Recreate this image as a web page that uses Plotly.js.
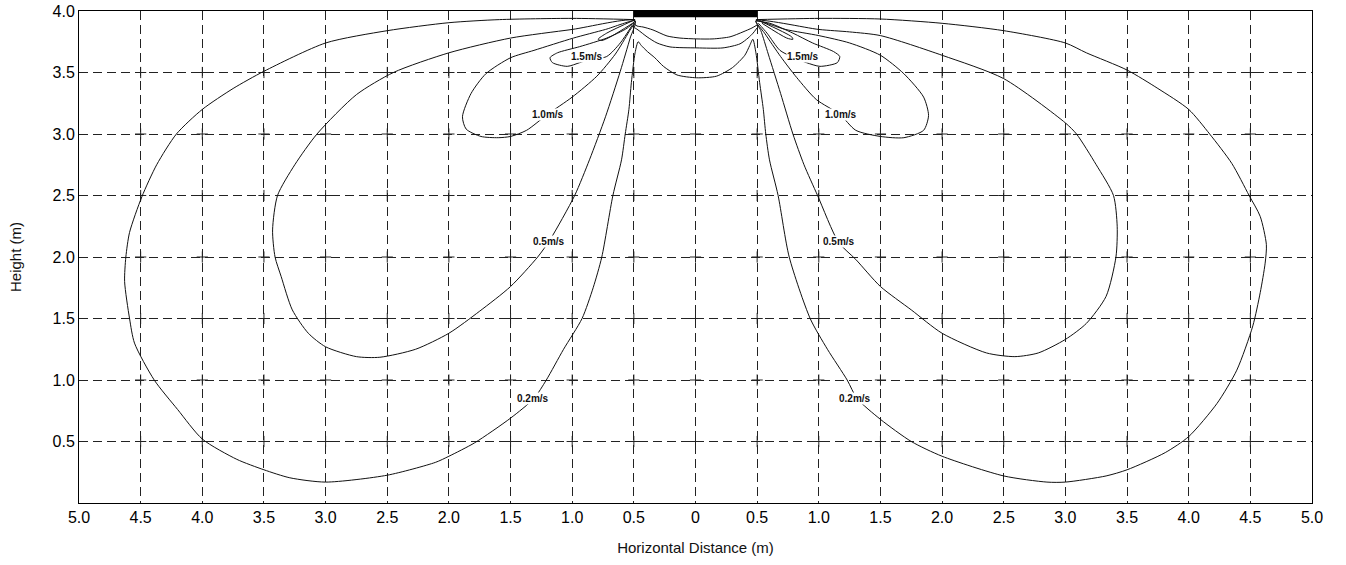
<!DOCTYPE html>
<html>
<head>
<meta charset="utf-8">
<script src="https://cdn.plot.ly/plotly-3.0.1.min.js"></script>
<style>html,body{margin:0;padding:0;background:#fff}#chart{width:1346px;height:565px}</style>
</head>
<body>
<div id="chart"></div>
<script>
// ---- tick labels (absolute horizontal distance from the diffuser centre) ----
const xTickVals = [-5,-4.5,-4,-3.5,-3,-2.5,-2,-1.5,-1,-0.5,0,0.5,1,1.5,2,2.5,3,3.5,4,4.5,5];
const xTickText = ['5.0','4.5','4.0','3.5','3.0','2.5','2.0','1.5','1.0','0.5','0','0.5','1.0','1.5','2.0','2.5','3.0','3.5','4.0','4.5','5.0'];
const yTickVals = [0.5,1,1.5,2,2.5,3,3.5,4];
const yTickText = ['0.5','1.0','1.5','2.0','2.5','3.0','3.5','4.0'];

// ---- diffuser (black bar at the ceiling) ----
const diffuserX = [-0.5, 0.5];
const diffuserY = [3.95, 4.0];

// ---- 0.2 m/s isovel (one continuous line: left lobe, centre dip, right lobe) ----
const c02X = [-0.49,-1.0,-1.59,-2.0,-2.5,-3.0,-3.5,-3.75,-4.0,-4.21,-4.37,-4.49,-4.59,-4.62,-4.63,-4.59,-4.55,-4.39,-4.2,-4.0,-3.72,-3.5,-3.29,-3.0,-2.5,-2.11,-2.0,-1.79,-1.5,-1.31,-1.21,-1.07,-0.92,-0.83,-0.76,-0.67,-0.6,-0.57,-0.54,-0.52,-0.49,-0.465,
  -0.44,-0.39,-0.33,-0.26,-0.15,0.01,0.17,0.3,0.4,0.44,0.465,
  0.49,0.52,0.55,0.57,0.6,0.67,0.76,0.93,1.07,1.23,1.31,1.5,1.75,2.0,2.5,2.85,3.0,3.33,3.5,3.81,4.0,4.23,4.39,4.52,4.58,4.62,4.63,4.58,4.49,4.35,4.17,4.0,3.75,3.5,3.17,3.0,2.5,2.0,1.5,1.0,0.49];
const c02Y = [3.93,3.94,3.93,3.905,3.84,3.74,3.51,3.37,3.2,3.0,2.75,2.49,2.2,2.0,1.8,1.5,1.3,1.0,0.76,0.52,0.355,0.27,0.205,0.17,0.226,0.33,0.38,0.49,0.69,0.85,1.0,1.25,1.5,1.75,2.0,2.5,2.79,3.0,3.2,3.42,3.66,3.75,
  3.72,3.67,3.62,3.55,3.48,3.457,3.47,3.54,3.64,3.72,3.77,
  3.66,3.42,3.2,3.0,2.79,2.5,2.0,1.5,1.25,1.0,0.85,0.68,0.5,0.38,0.22,0.17,0.17,0.22,0.27,0.41,0.54,0.81,1.08,1.44,1.71,1.95,2.1,2.33,2.5,2.76,3.0,3.2,3.37,3.52,3.66,3.74,3.84,3.9,3.935,3.94,3.93];

// ---- 0.5 m/s isovel ----
const c05LX = [-0.49,-1.0,-1.5,-2.0,-2.45,-2.75,-3.07,-3.25,-3.39,-3.43,-3.41,-3.36,-3.27,-3.14,-3.0,-2.75,-2.56,-2.27,-2.0,-1.75,-1.5,-1.28,-1.18,-0.98,-0.86,-0.73,-0.61,-0.53,-0.49];
const c05LY = [3.92,3.85,3.78,3.66,3.5,3.32,3.0,2.75,2.5,2.22,2.0,1.84,1.57,1.38,1.27,1.19,1.185,1.25,1.38,1.56,1.76,2.0,2.14,2.5,2.79,3.14,3.51,3.78,3.92];
const c05RX = [0.49,1.0,1.25,1.5,2.0,2.5,3.0,3.09,3.25,3.39,3.42,3.41,3.33,3.17,3.0,2.78,2.59,2.36,2.0,1.75,1.5,1.3,1.16,0.99,0.88,0.79,0.69,0.59,0.53,0.49];
const c05RY = [3.92,3.85,3.83,3.8,3.64,3.45,3.09,3.0,2.75,2.5,2.25,2.0,1.68,1.46,1.33,1.22,1.19,1.22,1.38,1.57,1.76,1.98,2.12,2.5,2.75,3.0,3.33,3.65,3.84,3.92];

// ---- 1.0 m/s isovel ----
const c10LX = [-0.49,-0.73,-0.99,-1.31,-1.5,-1.7,-1.82,-1.89,-1.86,-1.74,-1.6,-1.5,-1.37,-1.2,-1.0,-0.8,-0.65,-0.54,-0.49];
const c10LY = [3.92,3.85,3.78,3.68,3.62,3.49,3.33,3.14,3.04,2.98,2.97,2.98,3.03,3.16,3.3,3.47,3.65,3.83,3.92];
const c10RX = [0.49,0.73,1.0,1.25,1.5,1.69,1.85,1.89,1.85,1.69,1.5,1.3,1.17,0.98,0.82,0.69,0.56,0.49];
const c10RY = [3.92,3.85,3.8,3.74,3.64,3.49,3.3,3.15,3.03,2.97,2.98,3.03,3.16,3.28,3.46,3.63,3.82,3.92];

// ---- 1.5 m/s isovel ----
const c15LX = [-0.49,-0.555,-0.72,-0.94,-1.12,-1.18,-1.16,-1.04,-0.94,-0.88,-0.72,-0.61,-0.51];
const c15LY = [3.92,3.86,3.78,3.71,3.66,3.62,3.58,3.55,3.58,3.6,3.63,3.74,3.89];
const c15RX = [0.49,0.604,0.79,0.95,1.12,1.17,1.15,1.01,0.9,0.8,0.685,0.58,0.51];
const c15RY = [3.92,3.9,3.82,3.74,3.67,3.63,3.58,3.55,3.58,3.62,3.68,3.82,3.9];

// ---- innermost small lobes at the diffuser edges ----
const lobeLX = [-0.49,-0.72,-0.79,-0.76,-0.69,-0.51];
const lobeLY = [3.93,3.82,3.77,3.76,3.79,3.9];
const lobeRX = [0.52,0.78,0.79,0.74,0.54];
const lobeRY = [3.92,3.79,3.77,3.78,3.9];

// ---- lines crossing under the diffuser ----
const coreAX = [-0.507,-0.474,-0.426,-0.345,-0.231,-0.126,0.012,0.142,0.28,0.385,0.458,0.499];
const coreAY = [3.903,3.878,3.87,3.846,3.797,3.78,3.773,3.773,3.79,3.83,3.862,3.886];
const coreBX = [-0.49,-0.466,-0.393,-0.312,-0.207,0.012,0.223,0.361,0.426,0.467,0.499];
const coreBY = [3.862,3.846,3.79,3.74,3.708,3.7,3.7,3.733,3.78,3.82,3.862];

// ---- contour labels ----
const labelText = ['1.5m/s','1.5m/s','1.0m/s','1.0m/s','0.5m/s','0.5m/s','0.2m/s','0.2m/s'];
const labelX = [-0.88,0.87,-1.2,1.18,-1.19,1.16,-1.32,1.29];
const labelY = [3.63,3.63,3.16,3.16,2.13,2.13,0.85,0.85];

const lineStyle = {color:'#111', width:1, shape:'spline', smoothing:0.7};
function curve(x, y){ return {type:'scatter', mode:'lines', x:x, y:y, line:lineStyle, hoverinfo:'skip', showlegend:false}; }

// grid intersection crosses built from tick arrays
const crossX = [], crossY = [];
xTickVals.filter(v => Math.abs(v) < 5).forEach(xv => {
  yTickVals.filter(v => v < 4).forEach(yv => { crossX.push(xv); crossY.push(yv); });
});

const traces = [
  {type:'scatter', mode:'markers', x:crossX, y:crossY, hoverinfo:'skip', showlegend:false,
   marker:{symbol:'cross-thin', size:8, line:{color:'#222', width:1}}},
  curve(c02X, c02Y),
  curve(c05LX, c05LY), curve(c05RX, c05RY),
  curve(c10LX, c10LY), curve(c10RX, c10RY),
  curve(c15LX, c15LY), curve(c15RX, c15RY),
  curve(lobeLX, lobeLY), curve(lobeRX, lobeRY),
  curve(coreAX, coreAY), curve(coreBX, coreBY)
];

const annotations = labelText.map((t, i) => ({
  x: labelX[i], y: labelY[i], xref:'x', yref:'y', text:'<b>'+t+'</b>', showarrow:false,
  font:{family:'Liberation Sans, Arial, sans-serif', size:10, color:'#111'},
  bgcolor:'#ffffff', borderpad:0
}));

const shapes = [{type:'rect', xref:'x', yref:'y', x0:diffuserX[0], x1:diffuserX[1], y0:diffuserY[0], y1:diffuserY[1],
  fillcolor:'#000', line:{width:0}, layer:'above'}];

const axisFont = {family:'Liberation Sans, Arial, sans-serif', size:16, color:'#000'};
const titleFont = {family:'Liberation Sans, Arial, sans-serif', size:15, color:'#111'};
const layout = {
  width:1346, height:565,
  margin:{l:79, r:34, t:11, b:62},
  paper_bgcolor:'#fff', plot_bgcolor:'#fff',
  showlegend:false,
  xaxis:{range:[-5,5], tickmode:'array', tickvals:xTickVals, ticktext:xTickText, tickfont:axisFont,
    showgrid:true, gridcolor:'#222', gridwidth:1, griddash:'9px,5px', zeroline:false,
    showline:true, linecolor:'#000', linewidth:1, mirror:true, ticks:'', fixedrange:true,
    title:{text:'Horizontal Distance (m)', font:titleFont, standoff:17}},
  yaxis:{range:[0,4], tickmode:'array', tickvals:yTickVals, ticktext:yTickText, tickfont:axisFont,
    showgrid:true, gridcolor:'#222', gridwidth:1, griddash:'9px,5px', zeroline:false,
    showline:true, linecolor:'#000', linewidth:1, mirror:true, ticks:'', fixedrange:true,
    title:{text:'Height (m)', font:titleFont, standoff:27}},
  annotations: annotations,
  shapes: shapes
};

Plotly.newPlot('chart', traces, layout, {displayModeBar:false, staticPlot:true});
</script>
</body>
</html>
